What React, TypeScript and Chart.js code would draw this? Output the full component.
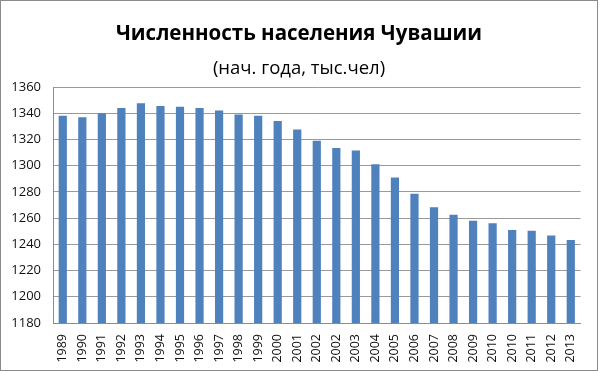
import React, { useEffect, useRef } from 'react';
import { Chart, registerables } from 'chart.js';

Chart.register(...registerables);

const titleText = 'Численность населения Чувашии';
const subtitleText = '(нач. года, тыс.чел)';

const years = [
  '1989', '1990', '1991', '1992', '1993', '1994', '1995', '1996', '1997',
  '1998', '1999', '2000', '2001', '2002', '2002', '2003', '2004', '2005',
  '2006', '2007', '2008', '2009', '2010', '2010', '2011', '2012', '2013',
];

const population = [
  1338, 1337, 1340, 1344, 1347.6, 1345.5, 1345, 1344, 1342,
  1339, 1338, 1334, 1327.5, 1319, 1313.5, 1311.5, 1301, 1291,
  1278.5, 1268.3, 1262.5, 1258, 1256, 1251, 1250.3, 1246.7, 1243.4,
];

const yMin = 1180;
const yMax = 1360;
const yStep = 20;

const titlePlugin = {
  id: 'twoLineTitle',
  afterDraw(chart: any) {
    const ctx = chart.ctx;
    const cx = chart.width / 2;
    ctx.save();
    ctx.fillStyle = '#000';
    ctx.textAlign = 'center';
    ctx.textBaseline = 'alphabetic';
    ctx.font = 'bold 20.5px "Open Sans"';
    ctx.fillText(titleText, cx, 39);
    ctx.font = '18.5px "Open Sans"';
    ctx.fillText(subtitleText, cx, 73);
    ctx.restore();
  },
};

export default function App() {
  const canvasRef = useRef<HTMLCanvasElement | null>(null);

  useEffect(() => {
    document.body.style.margin = '0';
    const canvas = canvasRef.current;
    if (!canvas) return;
    const chart = new Chart(canvas, {
      type: 'bar',
      data: {
        labels: years,
        datasets: [
          {
            data: population,
            backgroundColor: '#4F81BD',
            borderWidth: 0,
            barPercentage: 0.42,
            categoryPercentage: 1,
          },
        ],
      },
      plugins: [titlePlugin],
      options: {
        animation: false,
        responsive: true,
        maintainAspectRatio: false,
        layout: { padding: { top: 86, right: 12, left: 0, bottom: 0 } },
        plugins: {
          legend: { display: false },
          title: { display: false },
          tooltip: { enabled: false },
        },
        scales: {
          x: {
            grid: { display: false, drawTicks: false },
            border: { display: true, color: '#8c8c8c', width: 1 },
            ticks: {
              autoSkip: false,
              minRotation: 90,
              maxRotation: 90,
              padding: 11,
              color: '#111',
              font: { family: '"Open Sans"', size: 12.5 },
            },
            afterFit(axis: any) {
              axis.height = 47;
            },
          },
          y: {
            min: yMin,
            max: yMax,
            grid: { color: '#9a9a9a', lineWidth: 1, drawTicks: false },
            border: { display: true, color: '#8c8c8c', width: 1 },
            ticks: {
              stepSize: yStep,
              padding: 12,
              color: '#111',
              font: { family: '"Open Sans"', size: 13 },
              callback: (value: any) => String(value),
            },
            afterFit(axis: any) {
              axis.width = 52;
            },
          },
        },
      },
    });
    return () => chart.destroy();
  }, []);

  return (
    <div
      style={{
        position: 'absolute',
        left: 0,
        top: 0,
        width: 598,
        height: 371,
        border: '1px solid #8a8a8a',
        boxSizing: 'border-box',
        background: '#fff',
      }}
    >
      <canvas ref={canvasRef} />
    </div>
  );
}
